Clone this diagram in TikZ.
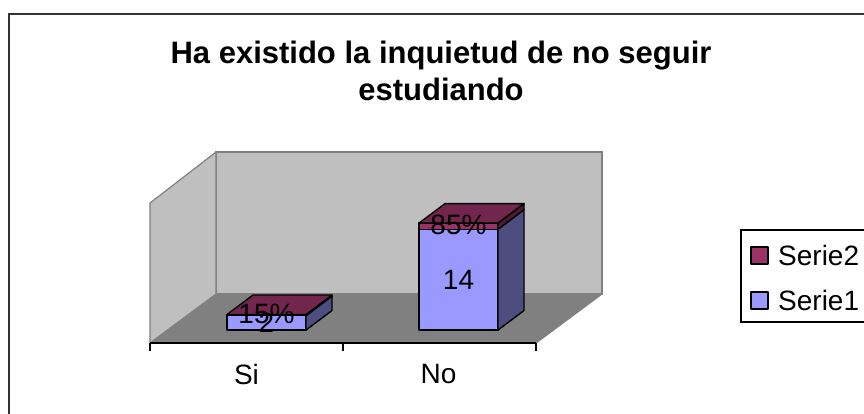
\documentclass[tikz,border=0pt]{standalone}
\usepackage{fontspec}
\setmainfont{Liberation Sans}
\definecolor{serieone}{HTML}{9999FF}
\definecolor{serieoneside}{HTML}{4D4D80}
\definecolor{serietwo}{HTML}{993366}
\definecolor{serietwotop}{HTML}{73264D}
\definecolor{serietwoside}{HTML}{4D1A33}
\begin{document}
\begin{tikzpicture}[x=1pt, y=-1pt,
    lbl/.style={font=\fontsize{28}{32}\selectfont, inner sep=0pt},
    wall/.style={draw=gray, line width=1.2pt, fill=black!25},
    barface/.style={draw=black, line width=1.4pt, line join=round}]
      \clip (0,0) rectangle (864,414);
      \fill[white] (0,0) rectangle (864,414);
      \draw[line width=1.5pt, black!80] (9,14) rectangle (900,450);
      \node[font=\bfseries\fontsize{31}{37}\selectfont, align=center] (title) at (441,71) {Ha existido la inquietud de no seguir\\estudiando};
      % walls and floor
      \coordinate (FL) at (150,343);
      \coordinate (FR) at (536,343);
      \coordinate (BL) at (216,294);
      \coordinate (BR) at (602,294);
      \filldraw[wall] (216,152) rectangle (BR);
      \filldraw[wall] (150,203) -- (216,152) -- (BL) -- (FL) -- cycle;
      \fill[black!50] (FL) -- (BL) -- (BR) -- (FR) -- cycle;
      \draw[gray, line width=1.2pt] (FR) -- (BR);
      \draw[line width=1.2pt] (FL) -- (FR);
      \foreach \x in {150,343,536}
        \draw[line width=1.2pt] (\x,343) -- (\x,351);
      % stacked bars
      \foreach \x/\a/\b/\name/\pct in {227/2/0.15/Si/15\%, 419/14/0.85/No/85\%} {
        \pgfmathsetmacro\ya{330-7.2*\a}
        \pgfmathsetmacro\yb{\ya-7.2*\b}
        \pgfmathsetmacro\xr{\x+79}
        \filldraw[barface, fill=serieone] (\x,330) rectangle (\xr,\ya);
        \filldraw[barface, fill=serieoneside] (\xr,330) -- ++(26,-19.5) -- ++(0,\ya-330) -- (\xr,\ya) -- cycle;
        \filldraw[barface, fill=serietwo] (\x,\ya) rectangle (\xr,\yb);
        \filldraw[barface, fill=serietwoside] (\xr,\ya) -- ++(26,-19.5) -- ++(0,\yb-\ya) -- (\xr,\yb) -- cycle;
        \filldraw[barface, fill=serietwotop] (\x,\yb) -- ++(26,-19.5) -- ++(79,0) -- (\xr,\yb) -- cycle;
        \node[lbl] (v\name) at (\x+39.5,{(330+\ya)/2}) {\a};
        \node[lbl] (p\name) at (\x+39.5,{(\ya+\yb)/2-1}) {\pct};
        \node[lbl] (c\name) at (\x+19.5,374) {\name};
      }
      % legend
      \draw[line width=1.2pt] (741,230) rectangle (900,322);
      \filldraw[barface, fill=serietwo] (751,247) rectangle (768,264);
      \node[lbl, anchor=west] (legtwo) at (778,255.5) {Serie2};
      \filldraw[barface, fill=serieone] (751,292) rectangle (768,309);
      \node[lbl, anchor=west] (legone) at (778,300.5) {Serie1};
\end{tikzpicture}
\end{document}
